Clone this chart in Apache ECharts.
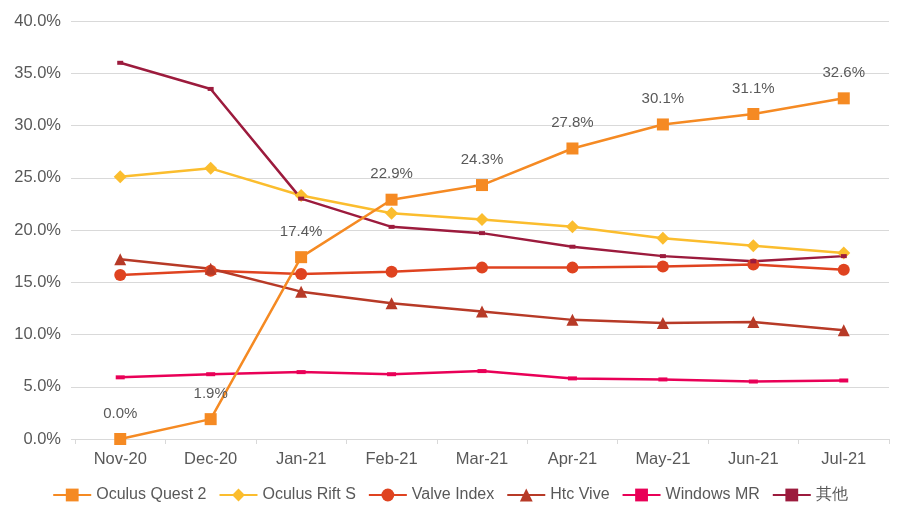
<!DOCTYPE html>
<html><head><meta charset="utf-8">
<script src="https://cdn.jsdelivr.net/npm/echarts@6/dist/echarts.min.js"></script>
<style>html,body{margin:0;padding:0;background:#fff}#c{width:900px;height:521px}</style>
</head><body><div id="c"></div>
<script>
const categories = ['Nov-20','Dec-20','Jan-21','Feb-21','Mar-21','Apr-21','May-21','Jun-21','Jul-21'];
const yTicks = [0,5,10,15,20,25,30,35,40];
const seriesNames = ['Oculus Quest 2','Oculus Rift S','Valve Index','Htc Vive','Windows MR','其他'];
const quest2 = [0.0,1.9,17.4,22.9,24.3,27.8,30.1,31.1,32.6];
const riftS = [25.1,25.9,23.3,21.6,21.0,20.3,19.2,18.5,17.8];
const valveIndex = [15.7,16.1,15.8,16.0,16.4,16.4,16.5,16.7,16.2];
const htcVive = [17.2,16.3,14.1,13.0,12.2,11.4,11.1,11.2,10.4];
const windowsMR = [5.9,6.2,6.4,6.2,6.5,5.8,5.7,5.5,5.6];
const others = [36.0,33.5,23.0,20.3,19.7,18.4,17.5,17.0,17.5];

const colors = ['#F58A23','#FBBD2E','#DF4320','#B73A27','#E90057','#9C1B3D'];
const symbols = ['rect','diamond','circle','triangle','rect','rect'];
const symbolSizes = [12,13,12,12,[9,4],[6,4]];
const dataSets = [quest2,riftS,valveIndex,htcVive,windowsMR,others];
const FONT = 'Liberation Sans, Arial, sans-serif';

const series = seriesNames.map((n,i)=>({
  name:n, type:'line', data:dataSets[i], symbol:symbols[i], symbolSize:symbolSizes[i],
  showAllSymbol:true,
  lineStyle:{width:2.5,color:colors[i]}, itemStyle:{color:colors[i]},
  z: i===0?10:5,
  label: i===0 ? {show:true,position:'top',distance:12,color:'#595959',fontSize:15,
    fontFamily:'Liberation Sans Narrow, Liberation Sans, sans-serif',
    formatter:p=>p.value.toFixed(1)+'%'} : {show:false}
}));

const chart = echarts.init(document.getElementById('c'));
chart.setOption({
  animation:false,
  color:colors,
  grid:{left:75,right:11,top:21,bottom:82},
  legend:{bottom:13,left:'center',itemWidth:38,itemHeight:16,itemGap:12,
    textStyle:{color:'#595959',fontSize:16,fontFamily:FONT},
    data:seriesNames},
  xAxis:{type:'category',data:categories,boundaryGap:true,
    axisLine:{lineStyle:{color:'#d9d9d9',width:1}},
    axisTick:{show:true,length:5,lineStyle:{color:'#d9d9d9'}},
    axisLabel:{color:'#595959',fontSize:16.5,margin:12,fontFamily:FONT}},
  yAxis:{type:'value',min:yTicks[0],max:yTicks[yTicks.length-1],interval:5,
    axisLine:{show:false},
    axisTick:{show:true,length:4,lineStyle:{color:'#d9d9d9'}},
    splitLine:{lineStyle:{color:'#d9d9d9',width:1}},
    axisLabel:{color:'#595959',fontSize:16.5,margin:14,fontFamily:FONT,
      formatter:v=>v.toFixed(1)+'%'}},
  series:series
});
</script></body></html>
